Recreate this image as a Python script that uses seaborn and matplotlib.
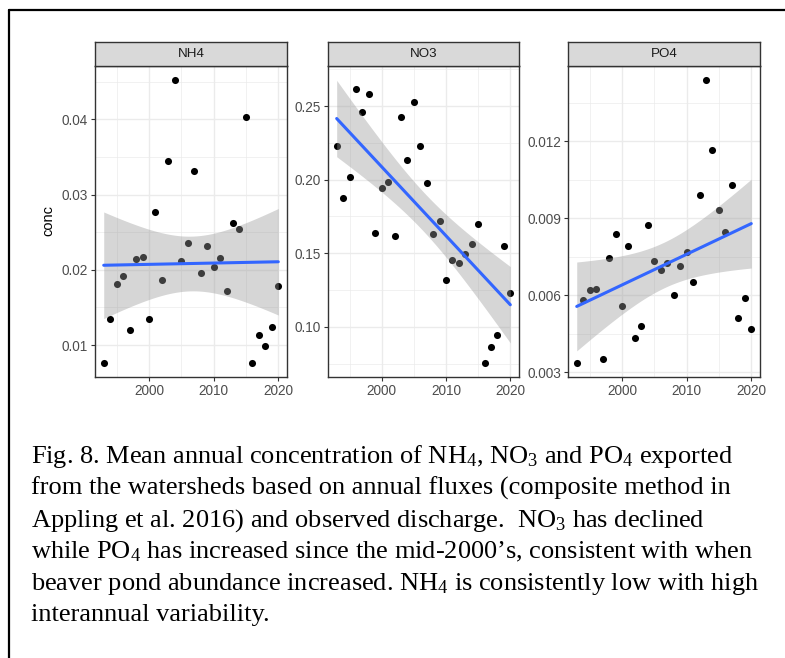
import numpy as np
import pandas as pd
import matplotlib
matplotlib.use("Agg")
import matplotlib.pyplot as plt
import seaborn as sns
from matplotlib.lines import Line2D

# ---------------- data ----------------
years = list(range(1993, 2021))
nh4 = [0.0076, 0.0134, 0.0181, 0.0192, 0.0120, 0.0214, 0.0217, 0.0134, 0.0277, 0.0186,
       0.0345, 0.0452, 0.0212, 0.0236, 0.0331, 0.0196, 0.0232, 0.0204, 0.0216, 0.0172,
       0.0262, 0.0254, 0.0403, 0.0076, 0.0113, 0.0099, 0.0124, 0.0178]
no3 = [0.2230, 0.1877, 0.2020, 0.2614, 0.2461, 0.2584, 0.1641, 0.1941, 0.1986, 0.1616,
       0.2423, 0.2136, 0.2525, 0.2232, 0.1977, 0.1632, 0.1718, 0.1320, 0.1455, 0.1434,
       0.1495, 0.1566, 0.1702, 0.0752, 0.0861, 0.0945, 0.1552, 0.1230]
po4 = [0.00337, 0.00584, 0.00620, 0.00626, 0.00352, 0.00744, 0.00839, 0.00557, 0.00791, 0.00434,
       0.00481, 0.00874, 0.00736, 0.00699, 0.00726, 0.00601, 0.00716, 0.00769, 0.00652, 0.00990,
       0.01439, 0.01168, 0.00934, 0.00848, 0.01030, 0.00511, 0.00588, 0.00469]
panels = ["NH4", "NO3", "PO4"]
ytick_vals = {"NH4": [0.01, 0.02, 0.03, 0.04],
              "NO3": [0.10, 0.15, 0.20, 0.25],
              "PO4": [0.003, 0.006, 0.009, 0.012]}
ytick_labels = {"NH4": ["0.01", "0.02", "0.03", "0.04"],
                "NO3": ["0.10", "0.15", "0.20", "0.25"],
                "PO4": ["0.003", "0.006", "0.009", "0.012"]}
yminor = {"NH4": [0.015, 0.025, 0.035, 0.045],
          "NO3": [0.075, 0.125, 0.175, 0.225, 0.275],
          "PO4": [0.0045, 0.0075, 0.0105, 0.0135]}
ylims = {"NH4": (0.00575, 0.04711), "NO3": (0.0659, 0.2773), "PO4": (0.00282, 0.01494)}
xticks = [2000, 2010, 2020]
xtick_labels = ["2000", "2010", "2020"]
xminor = [1995, 2005, 2015]
ylabel = "conc"
caption_lines = [
    "Fig. 8. Mean annual concentration of NH$_4$, NO$_3$ and PO$_4$ exported",
    "from the watersheds based on annual fluxes (composite method in",
    "Appling et al. 2016) and observed discharge.  NO$_3$ has declined",
    "while PO$_4$ has increased since the mid-2000\u2019s, consistent with when",
    "beaver pond abundance increased. NH$_4$ is consistently low with high",
    "interannual variability.",
]

df = pd.DataFrame({"year": years * 3,
                   "conc": nh4 + no3 + po4,
                   "panel": [p for p in panels for _ in years]})

# ---------------- style ----------------
sns.set_theme(style="white")
plt.rcParams['font.family'] = ['Liberation Sans', 'DejaVu Sans']
plt.rcParams['mathtext.fontset'] = 'custom'
plt.rcParams['mathtext.rm'] = 'Liberation Serif'
plt.rcParams['mathtext.it'] = 'Liberation Serif'
plt.rcParams['mathtext.default'] = 'rm'

W, H = 785, 658
fig = plt.figure(figsize=(W / 100, H / 100), dpi=100)


def rect(x0, y0, x1, y1):
    return [x0 / W, 1 - y1 / H, (x1 - x0) / W, (y1 - y0) / H]


panel_x = {"NH4": (95, 287), "NO3": (328, 519), "PO4": (568, 760)}
ptop, pbot, stop = 66, 377, 42
tcrit = 2.0555  # t(0.975, df=26)

for p in panels:
    x0, x1 = panel_x[p]
    ax = fig.add_axes(rect(x0, ptop, x1, pbot))
    sub = df[df.panel == p]
    x = sub.year.to_numpy(float)
    y = sub.conc.to_numpy(float)
    ax.set_axisbelow(True)
    ax.set_xticks(xticks)
    ax.set_xticklabels(xtick_labels)
    ax.set_xticks(xminor, minor=True)
    ax.set_yticks(ytick_vals[p])
    ax.set_yticklabels(ytick_labels[p])
    ax.set_yticks(yminor[p], minor=True)
    ax.grid(which='major', color='#EBEBEB', lw=1.0)
    ax.grid(which='minor', color='#EBEBEB', lw=0.5)
    sns.scatterplot(data=sub, x="year", y="conc", ax=ax, color='black', s=26,
                    linewidth=0, zorder=2, legend=False)
    n = len(x)
    b1, b0 = np.polyfit(x, y, 1)
    resid = y - (b0 + b1 * x)
    s = np.sqrt(np.sum(resid ** 2) / (n - 2))
    xbar = x.mean()
    sxx = np.sum((x - xbar) ** 2)
    xg = np.linspace(x.min(), x.max(), 80)
    yg = b0 + b1 * xg
    se = s * np.sqrt(1 / n + (xg - xbar) ** 2 / sxx)
    ax.fill_between(xg, yg - tcrit * se, yg + tcrit * se, color='#999999',
                    alpha=0.4, linewidth=0, zorder=3)
    sns.lineplot(x=xg, y=yg, ax=ax, color='#3366FF', lw=2.2, zorder=4)
    ax.set_xlim(1991.65, 2021.35)
    ax.set_ylim(*ylims[p])
    ax.set_xlabel("")
    ax.set_ylabel("")
    for sp in ax.spines.values():
        sp.set_visible(True)
        sp.set_color('#333333')
        sp.set_linewidth(1.0)
    ax.tick_params(which='major', direction='out', length=3, width=0.8, color='#333333',
                   labelsize=9.8, labelcolor='#4D4D4D', pad=2, bottom=True, left=True)
    ax.tick_params(which='minor', length=0)
    sax = fig.add_axes(rect(x0, stop, x1, ptop))
    sax.set_facecolor('#D9D9D9')
    sax.set_xticks([])
    sax.set_yticks([])
    for sp in sax.spines.values():
        sp.set_visible(True)
        sp.set_color('#333333')
        sp.set_linewidth(1.0)
    sax.text(0.5, 0.5, p, ha='center', va='center', fontsize=9.6, color='#1A1A1A',
             transform=sax.transAxes)

fig.text(48 / W, 1 - 221 / H, ylabel, rotation=90, ha='center', va='center',
         fontsize=10.5, color='black')

baselines = [463, 495, 527, 558, 590, 621]
for line, yb in zip(caption_lines, baselines):
    fig.text(31 / W, 1 - yb / H, line, ha='left', va='baseline',
             fontsize=19, family='Liberation Serif', color='black')

fig.add_artist(Line2D([8.5 / W, 1.0], [1 - 10 / H, 1 - 10 / H], color='black', lw=1.6,
                      transform=fig.transFigure))
fig.add_artist(Line2D([8.5 / W, 8.5 / W], [1 - 10 / H, 0.0], color='black', lw=1.6,
                      transform=fig.transFigure))

fig.savefig("out.png", dpi=100)
